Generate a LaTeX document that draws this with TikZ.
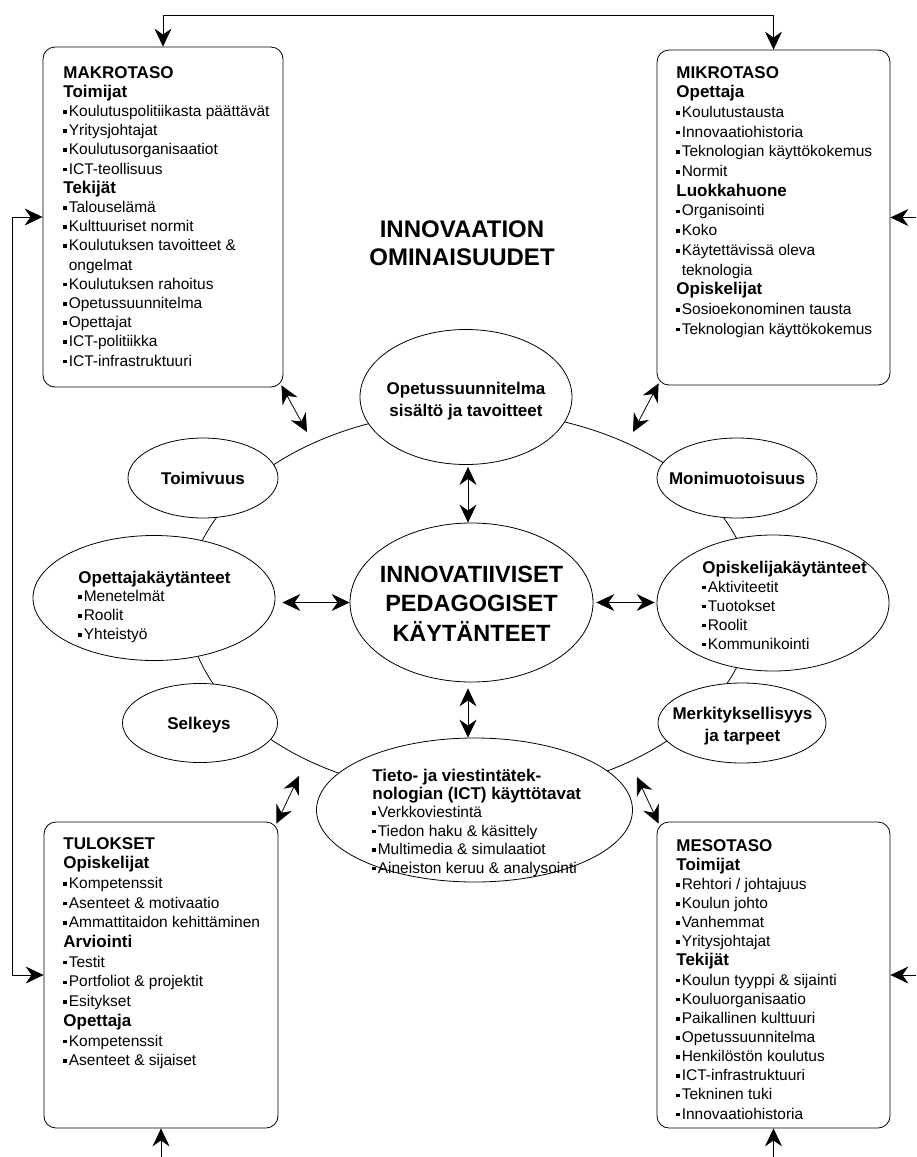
\documentclass[tikz,border=0pt]{standalone}
\usepackage{fontspec}
\setmainfont{Liberation Sans}
\usetikzlibrary{arrows.meta,shapes.geometric}

% small square bullet and matching indent
\newcommand\bx{\rule[2.8pt]{3.6pt}{3.6pt}\kern1.8pt}
\newcommand\ind{\hphantom{\bx}}
% bold heading inside a list
\newcommand\hd[1]{{\fontsize{17}{19}\selectfont\bfseries #1}}
% stacks of lines with a fixed pitch; baseline = first line
\newcommand\stackl[2]{\vtop{\baselineskip=#1\lineskiplimit=-\maxdimen\lineskip=0pt\halign{##\hfil\cr#2\crcr}}}
\newcommand\stackc[2]{\vtop{\baselineskip=#1\lineskiplimit=-\maxdimen\lineskip=0pt\halign{\hfil##\hfil\cr#2\crcr}}}

\begin{document}
\begin{tikzpicture}[x=1pt,y=-1pt,line width=0.8pt,
  >={Stealth[length=18pt,width=17pt,inset=6pt]},
  dbl/.style={<->},
  one/.style={->},
  panel/.style={draw,rounded corners=12pt,inner sep=0pt},
  oval/.style={ellipse,draw,fill=white,inner sep=0pt},
  txt/.style={inner sep=0pt,anchor=base west,font=\fontsize{15.5}{19}\selectfont},
  txtc/.style={inner sep=0pt,anchor=base,font=\fontsize{17}{19}\selectfont\bfseries},
  big/.style={inner sep=0pt,anchor=base,font=\fontsize{23.5}{29}\selectfont\bfseries}]

\fill[white] (0,0) rectangle (916,1157);
\useasboundingbox (0,0) rectangle (916,1157);

% the four level boxes
\node[panel,minimum width=240pt,minimum height=340pt] (makro) at (163,217) {};
\node[panel,minimum width=233pt,minimum height=335pt] (mikro) at (773.5,217.5) {};
\node[panel,minimum width=234pt,minimum height=306pt] (tulokset) at (161,975) {};
\node[panel,minimum width=233pt,minimum height=306pt] (meso) at (773.5,975) {};

% ring joining the outer properties
\draw (470,603) ellipse [x radius=283pt,y radius=192pt];

% ovals
\node[oval,minimum width=212pt,minimum height=135pt] (opetus) at (466,397) {};
\node[oval,minimum width=243pt,minimum height=159pt] (central) at (471.5,602.5) {};
\node[oval,minimum width=150pt,minimum height=80pt] (toim) at (203,478) {};
\node[oval,minimum width=160pt,minimum height=80pt] (moni) at (737,478) {};
\node[oval,minimum width=242pt,minimum height=125pt] (opett) at (154,598) {};
\node[oval,minimum width=232pt,minimum height=136pt] (opisk) at (773,603) {};
\node[oval,minimum width=155pt,minimum height=79pt] (selk) at (200,723) {};
\node[oval,minimum width=168pt,minimum height=80pt] (merk) at (742,723) {};
\node[oval,minimum width=316pt,minimum height=144pt] (tieto) at (474.5,810) {};

% title
\node[big,font=\fontsize{24}{28}\selectfont\bfseries] (title) at (462,237)
  {\stackc{28pt}{INNOVAATION\cr OMINAISUUDET}};

% texts of the ovals
\node[big] (central-t) at (471.5,582) {\stackc{29.5pt}{INNOVATIIVISET\cr PEDAGOGISET\cr KÄYTÄNTEET}};
\node[txtc] (opetus-t) at (466,394) {\stackc{22pt}{Opetussuunnitelma\cr sisältö ja tavoitteet}};
\node[txtc] (toim-t) at (203,484) {Toimivuus};
\node[txtc] (moni-t) at (737,484) {Monimuotoisuus};
\node[txtc] (selk-t) at (199,729) {Selkeys};
\node[txtc] (merk-t) at (742.5,719) {\stackc{22pt}{Merkityksellisyys\cr ja tarpeet}};
\node[txt] (opett-t) at (78,583) {\stackl{18.8pt}{\hd{Opettajakäytänteet}\cr
  \bx Menetelmät\cr \bx Roolit\cr \bx Yhteistyö}};
\node[txt] (opisk-t) at (702,573) {\stackl{19pt}{\hd{Opiskelijakäytänteet}\cr
  \bx Aktiviteetit\cr \bx Tuotokset\cr \bx Roolit\cr \bx Kommunikointi}};
\node[txt] (tieto-t) at (372,781) {\stackl{18.4pt}{\hd{Tieto- ja viestintätek-}\cr
  \hd{nologian (ICT) käyttötavat}\cr \bx Verkkoviestintä\cr
  \bx Tiedon haku \& käsittely\cr \bx Multimedia \& simulaatiot\cr
  \bx Aineiston keruu \& analysointi}};

% texts of the boxes
\node[txt] (makro-t) at (63,78) {\stackl{19.2pt}{\hd{MAKROTASO}\cr
  \hd{Toimijat}\cr
  \bx Koulutuspolitiikasta päättävät\cr
  \bx Yritysjohtajat\cr
  \bx Koulutusorganisaatiot\cr
  \bx ICT-teollisuus\cr
  \hd{Tekijät}\cr
  \bx Talouselämä\cr
  \bx Kulttuuriset normit\cr
  \bx Koulutuksen tavoitteet \&\cr
  \ind ongelmat\cr
  \bx Koulutuksen rahoitus\cr
  \bx Opetussuunnitelma\cr
  \bx Opettajat\cr
  \bx ICT-politiikka\cr
  \bx ICT-infrastruktuuri}};

\node[txt] (mikro-t) at (676,78) {\stackl{19.7pt}{\hd{MIKROTASO}\cr
  \hd{Opettaja}\cr
  \bx Koulutustausta\cr
  \bx Innovaatiohistoria\cr
  \bx Teknologian käyttökokemus\cr
  \bx Normit\cr
  \hd{Luokkahuone}\cr
  \bx Organisointi\cr
  \bx Koko\cr
  \bx Käytettävissä oleva\cr
  \ind teknologia\cr
  \hd{Opiskelijat}\cr
  \bx Sosioekonominen tausta\cr
  \bx Teknologian käyttökokemus}};

\node[txt] (tulokset-t) at (63,849) {\stackl{19.7pt}{\hd{TULOKSET}\cr
  \hd{Opiskelijat}\cr
  \bx Kompetenssit\cr
  \bx Asenteet \& motivaatio\cr
  \bx Ammattitaidon kehittäminen\cr
  \hd{Arviointi}\cr
  \bx Testit\cr
  \bx Portfoliot \& projektit\cr
  \bx Esitykset\cr
  \hd{Opettaja}\cr
  \bx Kompetenssit\cr
  \bx Asenteet \& sijaiset}};

\node[txt] (meso-t) at (676,851) {\stackl{19.15pt}{\hd{MESOTASO}\cr
  \hd{Toimijat}\cr
  \bx Rehtori / johtajuus\cr
  \bx Koulun johto\cr
  \bx Vanhemmat\cr
  \bx Yritysjohtajat\cr
  \hd{Tekijät}\cr
  \bx Koulun tyyppi \& sijainti\cr
  \bx Kouluorganisaatio\cr
  \bx Paikallinen kulttuuri\cr
  \bx Opetussuunnitelma\cr
  \bx Henkilöstön koulutus\cr
  \bx ICT-infrastruktuuri\cr
  \bx Tekninen tuki\cr
  \bx Innovaatiohistoria}};

% feedback loops between the boxes
\coordinate (ty) at (0,15);
\coordinate (lx) at (12,0);
\coordinate (rx) at (916,0);
\coordinate (by) at (0,1157);
\draw[dbl] (makro.north) -- (makro.north |- ty) -- (mikro.north |- ty) -- (mikro.north);
\draw[dbl] (makro.west) -- (makro.west -| lx) -- (tulokset.west -| lx) -- (tulokset.west);
\draw[one] (mikro.east -| rx) -- (mikro.east);
\draw[one] (meso.east -| rx) -- (meso.east);
\draw[one] (tulokset.south |- by) -- (tulokset.south);
\draw[one] (meso.south |- by) -- (meso.south);

% links from the boxes towards the ring
\coordinate (a1) at (307,432);
\coordinate (a2) at (633,432);
\coordinate (a3) at (299,776);
\coordinate (a4) at (637,777);
\draw[dbl] ([shift={(-2,-2)}]makro.south east) -- (a1);
\draw[dbl] ([shift={(2,-2)}]mikro.south west) -- (a2);
\draw[dbl] ([shift={(-2,2)}]tulokset.north east) -- (a3);
\draw[dbl] ([shift={(2,2)}]meso.north west) -- (a4);

% links around the centre
\coordinate (ax) at (468,0);
\draw[dbl] ([yshift=-2pt]opetus.south -| ax) -- (central.north -| ax);
\draw[dbl,shorten <=6pt] (central.south -| ax) -- (tieto.north -| ax);
\draw[dbl,shorten >=7pt] (central.west) -- (central.west -| opett.east);
\draw[dbl,shorten <=3pt,shorten >=2pt] (central.east) -- (central.east -| opisk.west);
\end{tikzpicture}
\end{document}
